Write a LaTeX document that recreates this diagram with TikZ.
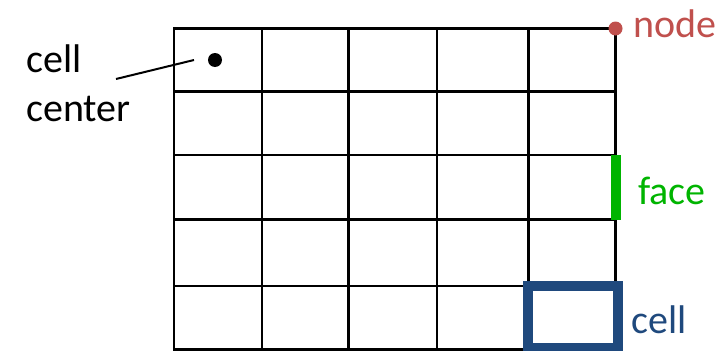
\documentclass[tikz,border=0pt]{standalone}
\usepackage{fontspec}
\setmainfont{Carlito}
\definecolor{nodered}{HTML}{C0504D}
\definecolor{facegreen}{HTML}{00B400}
\definecolor{cellblue}{HTML}{1F497D}
\begin{document}
\begin{tikzpicture}[x=1pt,y=-1pt,
  gridline/.style={line width=2.8pt, black},
  lbl/.style={anchor=base west, inner sep=0pt, font=\fontsize{40}{49}\selectfont},
  dotmark/.style={circle, inner sep=0pt, minimum size=14pt}]
\useasboundingbox (0,0) rectangle (721,351);
% grid
\foreach \x in {262,348.5,437,528.5}
  \draw[gridline] (\x,28.5) -- (\x,349.5);
\foreach \y in {91.5,155,219.5,286}
  \draw[gridline] (174,\y) -- (615.5,\y);
\draw[gridline] (174,28.5) rectangle (615.5,349.5);
% cell center
\node[dotmark, fill=black] (cc) at (215,60) {};
\node[lbl, align=left] (cctext) at (26,121) {cell\\center};
\coordinate (leadA) at (116,79);
\coordinate (leadB) at (194,60);
\draw[line width=2pt] (leadA) -- (leadB);
% node
\node[dotmark, fill=nodered] (nd) at (615.5,28.5) {};
\node[lbl, text=nodered] (ndtext) at (633,37) {node};
% face
\coordinate (fA) at (616,155);
\coordinate (fB) at (616,219.5);
\draw[line width=10pt, facegreen] (fA) -- (fB);
\node[lbl, text=facegreen] (ftext) at (638,204) {face};
% cell
\draw[line width=10pt, cellblue] (528,286) rectangle (617.5,348);
\node[lbl, text=cellblue] (ctext) at (631,333) {cell};
\end{tikzpicture}
\end{document}
